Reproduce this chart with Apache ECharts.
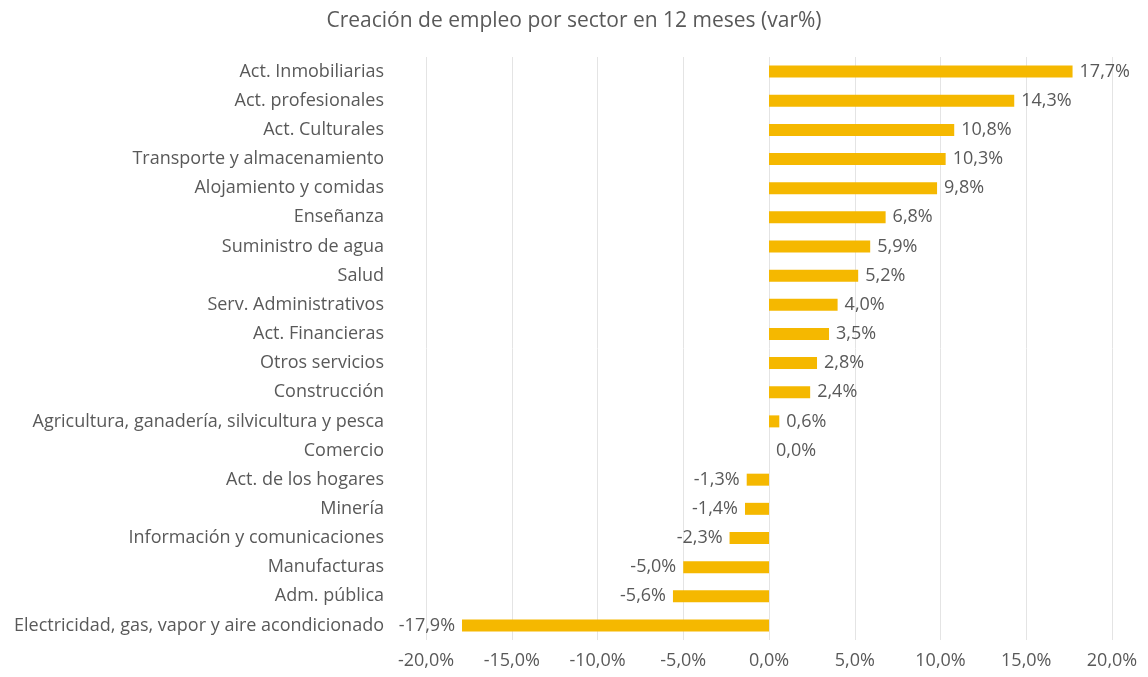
<!DOCTYPE html>
<html>
<head>
<meta charset="utf-8">
<script src="https://cdn.jsdelivr.net/npm/echarts@6/dist/echarts.min.js"></script>
<style>
  html, body { margin: 0; padding: 0; background: #fff; }
  #chart { width: 1148px; height: 677px; }
</style>
</head>
<body>
<div id="chart"></div>
<script>
// Sectores, de arriba hacia abajo
const sectores = [
    'Act. Inmobiliarias',
    'Act. profesionales',
    'Act. Culturales',
    'Transporte y almacenamiento',
    'Alojamiento y comidas',
    'Enseñanza',
    'Suministro de agua',
    'Salud',
    'Serv. Administrativos',
    'Act. Financieras',
    'Otros servicios',
    'Construcción',
    'Agricultura, ganadería, silvicultura y pesca',
    'Comercio',
    'Act. de los hogares',
    'Minería',
    'Información y comunicaciones',
    'Manufacturas',
    'Adm. pública',
    'Electricidad, gas, vapor y aire acondicionado'
];
const variacion = [17.7, 14.3, 10.8, 10.3, 9.8, 6.8, 5.9, 5.2, 4.0, 3.5, 2.8, 2.4, 0.6, 0.0, -1.3, -1.4, -2.3, -5.0, -5.6, -17.9];
const ejeMin = -20;
const ejeMax = 20;
const ejeIntervalo = 5;

function pct(v) {
    return v.toFixed(1).replace('.', ',') + '%';
}

const chart = echarts.init(document.getElementById('chart'));

const option = {
    animation: false,
    title: {
        text: 'Creación de empleo por sector en 12 meses (var%)',
        left: 'center',
        top: 6,
        textStyle: {
            fontFamily: 'Open Sans',
            fontSize: 21,
            fontWeight: 'normal',
            color: '#595959'
        }
    },
    grid: {
        left: 426,
        right: 36,
        top: 57,
        bottom: 37
    },
    xAxis: {
        type: 'value',
        min: ejeMin,
        max: ejeMax,
        interval: ejeIntervalo,
        axisLine: { show: false },
        axisTick: { show: false },
        splitLine: { lineStyle: { color: '#e4e4e4' } },
        axisLabel: {
            formatter: pct,
            fontFamily: 'Open Sans',
            fontSize: 18,
            color: '#595959',
            margin: 12
        }
    },
    yAxis: {
        type: 'category',
        inverse: true,
        data: sectores,
        axisLine: { show: false },
        axisTick: { show: false },
        axisLabel: {
            fontFamily: 'Open Sans',
            fontSize: 18,
            color: '#595959',
            margin: 42
        }
    },
    series: [
        {
            type: 'bar',
            barWidth: 12,
            itemStyle: { color: '#F5B800' },
            label: {
                show: true,
                fontFamily: 'Open Sans',
                fontSize: 18,
                color: '#595959',
                distance: 7,
                formatter: p => pct(p.value)
            },
            data: variacion.map(v => ({
                value: v,
                label: { position: v < 0 ? 'left' : 'right' }
            }))
        }
    ]
};

chart.setOption(option);
</script>
</body>
</html>
